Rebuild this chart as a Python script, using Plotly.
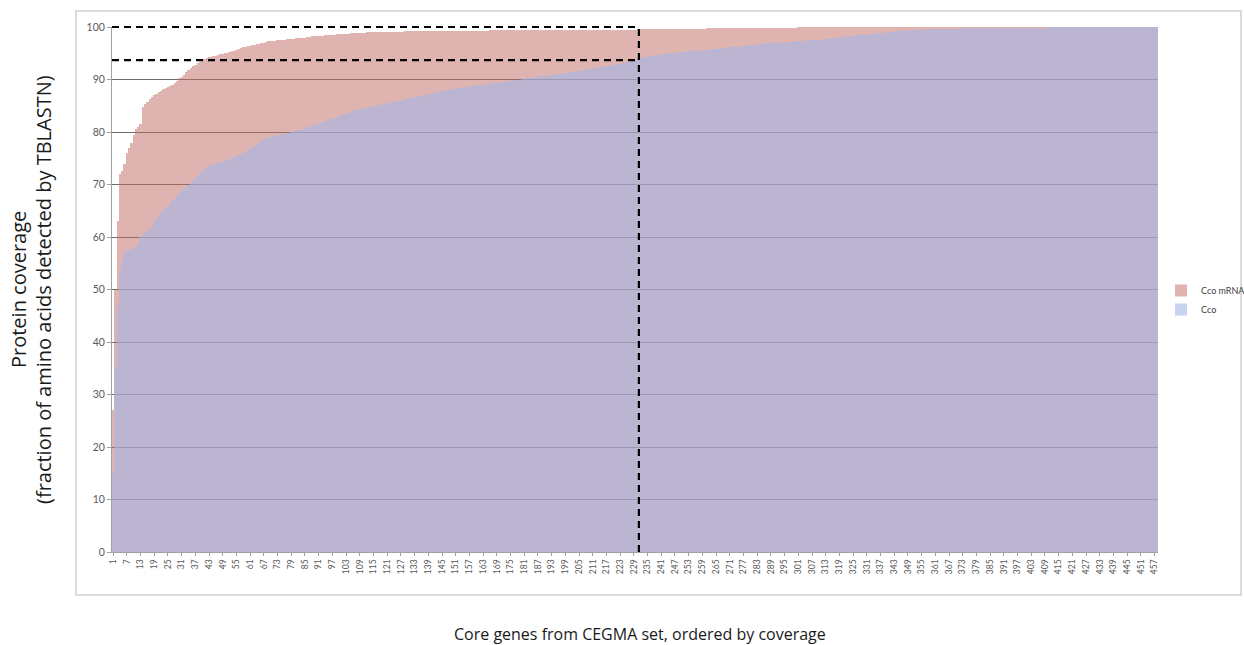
import plotly.graph_objects as go

# ---------------- data ----------------
cco_mrna = [
    27, 50, 63, 72, 72.5, 74, 76, 77, 78, 79.5, 80.5, 81, 81.5, 84.8, 85.3, 85.8, 86.2, 86.6, 87, 87.3,
    87.6, 87.9, 88.1, 88.3, 88.5, 88.7, 89, 89.4, 89.8, 90.2, 90.5, 90.9, 91.4, 91.8, 92.2, 92.5, 92.8, 93.1, 93.4, 93.7,
    93.9, 94.1, 94.2, 94.3, 94.4, 94.5, 94.7, 94.8, 94.9, 95.0, 95.1, 95.3, 95.4, 95.5, 95.7, 95.9, 96.0, 96.1, 96.2, 96.3,
    96.4, 96.5, 96.6, 96.7, 96.8, 96.9, 97.0, 97.2, 97.3, 97.3, 97.4, 97.4, 97.5, 97.5, 97.6, 97.6, 97.7, 97.7, 97.8, 97.8,
    97.9, 97.9, 98.0, 98.0, 98.0, 98.1, 98.1, 98.2, 98.2, 98.2, 98.3, 98.3, 98.3, 98.4, 98.4, 98.4, 98.5, 98.5, 98.6, 98.6,
    98.6, 98.7, 98.7, 98.7, 98.8, 98.8, 98.8, 98.9, 98.9, 98.9, 98.9, 99.0, 99.0, 99.0, 99.0, 99.0, 99.0, 99.0, 99.0, 99.1,
    99.1, 99.1, 99.1, 99.1, 99.1, 99.1, 99.1, 99.1, 99.2, 99.2, 99.2, 99.2, 99.2, 99.2, 99.2, 99.2, 99.2, 99.2, 99.2, 99.2,
    99.2, 99.2, 99.2, 99.2, 99.2, 99.3, 99.3, 99.3, 99.3, 99.3, 99.3, 99.3, 99.3, 99.3, 99.3, 99.3, 99.3, 99.3, 99.3, 99.3,
    99.3, 99.3, 99.3, 99.3, 99.3, 99.4, 99.4, 99.4, 99.4, 99.4, 99.4, 99.4, 99.4, 99.4, 99.4, 99.4, 99.4, 99.4, 99.4, 99.4,
    99.4, 99.4, 99.4, 99.4, 99.4, 99.4, 99.4, 99.4, 99.4, 99.4, 99.5, 99.5, 99.5, 99.5, 99.5, 99.5, 99.5, 99.5, 99.5, 99.5,
    99.5, 99.5, 99.5, 99.5, 99.5, 99.5, 99.5, 99.5, 99.5, 99.5, 99.5, 99.5, 99.5, 99.5, 99.5, 99.5, 99.5, 99.5, 99.5, 99.5,
    99.5, 99.5, 99.5, 99.5, 99.5, 99.5, 99.5, 99.5, 99.5, 99.5, 99.6, 99.6, 99.6, 99.6, 99.6, 99.6, 99.6, 99.6, 99.6, 99.6,
    99.6, 99.6, 99.6, 99.6, 99.6, 99.6, 99.6, 99.6, 99.6, 99.6, 99.7, 99.7, 99.7, 99.7, 99.7, 99.7, 99.7, 99.7, 99.7, 99.7,
    99.8, 99.8, 99.8, 99.8, 99.8, 99.8, 99.8, 99.8, 99.8, 99.8, 99.9, 99.9, 99.9, 99.9, 99.9, 99.9, 99.9, 99.9, 99.9, 99.9,
    99.9, 99.9, 99.9, 99.9, 99.9, 99.9, 99.9, 99.9, 99.9, 99.9, 99.9, 99.9, 99.9, 99.9, 99.9, 99.9, 99.9, 99.9, 99.9, 99.9,
    100, 100, 100, 100, 100, 100, 100, 100, 100, 100, 100, 100, 100, 100, 100, 100, 100, 100, 100, 100,
    100, 100, 100, 100, 100, 100, 100, 100, 100, 100, 100, 100, 100, 100, 100, 100, 100, 100, 100, 100,
    100, 100, 100, 100, 100, 100, 100, 100, 100, 100, 100, 100, 100, 100, 100, 100, 100, 100, 100, 100,
    100, 100, 100, 100, 100, 100, 100, 100, 100, 100, 100, 100, 100, 100, 100, 100, 100, 100, 100, 100,
    100, 100, 100, 100, 100, 100, 100, 100, 100, 100, 100, 100, 100, 100, 100, 100, 100, 100, 100, 100,
    100, 100, 100, 100, 100, 100, 100, 100, 100, 100, 100, 100, 100, 100, 100, 100, 100, 100, 100, 100,
    100, 100, 100, 100, 100, 100, 100, 100, 100, 100, 100, 100, 100, 100, 100, 100, 100, 100, 100, 100,
    100, 100, 100, 100, 100, 100, 100, 100, 100, 100, 100, 100, 100, 100, 100, 100, 100, 100,
]

cco = [
    15, 35, 47, 53, 55.5, 57, 57.5, 57.5, 57.8, 58, 58.3, 58.6, 60, 60.4, 60.8, 61.2, 61.6, 62, 62.8, 63.5,
    64.2, 64.8, 65.2, 65.6, 66, 66.5, 67, 67.5, 68, 68.4, 68.8, 69.2, 69.6, 70, 70.4, 70.9, 71.3, 71.7, 72.1, 72.6,
    73.0, 73.4, 73.6, 73.8, 73.9, 74.0, 74.1, 74.2, 74.3, 74.4, 74.6, 74.8, 75.0, 75.2, 75.4, 75.6, 75.8, 76.0, 76.2, 76.5,
    76.8, 77.1, 77.4, 77.7, 78.0, 78.3, 78.6, 78.8, 79.0, 79.1, 79.2, 79.3, 79.4, 79.5, 79.6, 79.7, 79.8, 79.9, 80.0, 80.1,
    80.2, 80.3, 80.4, 80.6, 80.8, 80.9, 81.0, 81.2, 81.3, 81.5, 81.6, 81.8, 82.0, 82.1, 82.3, 82.4, 82.5, 82.7, 82.9, 83.0,
    83.2, 83.4, 83.5, 83.7, 83.9, 84.0, 84.1, 84.2, 84.3, 84.4, 84.5, 84.6, 84.7, 84.8, 84.9, 85.0, 85.1, 85.2, 85.3, 85.4,
    85.5, 85.6, 85.7, 85.8, 85.8, 85.9, 86.0, 86.1, 86.2, 86.3, 86.4, 86.5, 86.6, 86.7, 86.8, 86.9, 87.0, 87.1, 87.2, 87.3,
    87.4, 87.5, 87.6, 87.7, 87.8, 87.9, 88.0, 88.0, 88.1, 88.2, 88.3, 88.3, 88.4, 88.5, 88.5, 88.6, 88.7, 88.7, 88.8, 88.9,
    88.9, 89.0, 89.0, 89.1, 89.2, 89.2, 89.3, 89.3, 89.4, 89.5, 89.5, 89.6, 89.6, 89.7, 89.8, 89.8, 89.9, 90.0, 90.0, 90.1,
    90.2, 90.2, 90.3, 90.3, 90.4, 90.5, 90.5, 90.6, 90.6, 90.7, 90.7, 90.8, 90.9, 90.9, 91.0, 91.0, 91.1, 91.2, 91.3, 91.3,
    91.4, 91.5, 91.5, 91.6, 91.7, 91.7, 91.8, 91.9, 92.0, 92.0, 92.1, 92.2, 92.2, 92.3, 92.4, 92.5, 92.5, 92.6, 92.7, 92.8,
    92.9, 92.9, 93.0, 93.1, 93.2, 93.3, 93.4, 93.5, 93.6, 93.7, 94.0, 94.1, 94.2, 94.3, 94.4, 94.5, 94.5, 94.6, 94.7, 94.7,
    94.8, 94.8, 94.9, 94.9, 95.0, 95.0, 95.1, 95.1, 95.2, 95.2, 95.3, 95.3, 95.4, 95.4, 95.5, 95.5, 95.5, 95.6, 95.6, 95.6,
    95.7, 95.7, 95.8, 95.8, 95.9, 95.9, 95.9, 96.0, 96.0, 96.1, 96.1, 96.1, 96.2, 96.2, 96.2, 96.3, 96.3, 96.4, 96.4, 96.5,
    96.5, 96.6, 96.6, 96.7, 96.7, 96.8, 96.8, 96.9, 96.9, 97.0, 97.0, 97.0, 97.1, 97.1, 97.1, 97.2, 97.2, 97.2, 97.3, 97.3,
    97.3, 97.4, 97.4, 97.4, 97.5, 97.5, 97.5, 97.5, 97.6, 97.6, 97.6, 97.7, 97.7, 97.8, 97.8, 97.9, 97.9, 98.0, 98.0, 98.1,
    98.1, 98.2, 98.2, 98.3, 98.3, 98.3, 98.4, 98.4, 98.5, 98.5, 98.5, 98.6, 98.6, 98.7, 98.7, 98.8, 98.8, 98.9, 98.9, 99.0,
    99.0, 99.1, 99.1, 99.2, 99.2, 99.3, 99.3, 99.3, 99.4, 99.4, 99.4, 99.5, 99.5, 99.5, 99.5, 99.6, 99.6, 99.6, 99.6, 99.7,
    99.7, 99.7, 99.7, 99.7, 99.7, 99.7, 99.7, 99.7, 99.7, 99.7, 99.7, 99.7, 99.8, 99.8, 99.8, 99.8, 99.8, 99.8, 99.8, 99.8,
    99.8, 99.8, 99.8, 99.8, 99.8, 99.8, 99.8, 99.8, 99.8, 99.8, 99.8, 99.8, 99.8, 99.8, 99.8, 99.8, 99.8, 99.8, 99.8, 99.8,
    99.8, 99.8, 99.8, 99.8, 99.8, 99.8, 99.8, 99.8, 99.8, 99.8, 100, 100, 100, 100, 100, 100, 100, 100, 100, 100,
    100, 100, 100, 100, 100, 100, 100, 100, 100, 100, 100, 100, 100, 100, 100, 100, 100, 100, 100, 100,
    100, 100, 100, 100, 100, 100, 100, 100, 100, 100, 100, 100, 100, 100, 100, 100, 100, 100,
]

genes = list(range(1, len(cco_mrna) + 1))
tick_labels = [str(g) for g in genes[::6]]
y_ticks = [0, 10, 20, 30, 40, 50, 60, 70, 80, 90, 100]

# highlighted region (dashed box)
CUT_GENE = 231.2
CUT_COVERAGE = 93.7

RED = "rgba(191,103,97,0.5)"
BLUE = "rgba(163,181,231,0.6)"
FONT = "Lato"
TITLE_FONT = "Open Sans"

fig = go.Figure()
fig.add_trace(go.Bar(x=genes, y=cco_mrna, name="Cco mRNA",
                     marker=dict(color=RED, line=dict(width=0))))
fig.add_trace(go.Bar(x=genes, y=cco, name="Cco",
                     marker=dict(color=BLUE, line=dict(width=0))))

L, R, T, B = 112, 86, 27, 93
W, H = 1244, 645
pw, ph = W - L - R, H - T - B
x_lo, x_hi = 0.5, len(genes) + 0.5
y_lo, y_hi = 0, 100


def px_x(p):
    return (p - L) / pw


def px_y(p):
    return (H - B - p) / ph


def dx(v):  # data x -> paper
    return (v - x_lo) / (x_hi - x_lo)


def dy(v):  # data y -> paper
    return (v - y_lo) / (y_hi - y_lo)


dash = "7px,5px"
dline = dict(color="black", width=2.2, dash=dash)
shapes = [
    dict(type="line", xref="paper", yref="paper", x0=dx(x_lo), x1=dx(CUT_GENE), y0=dy(100), y1=dy(100), line=dline),
    dict(type="line", xref="paper", yref="paper", x0=dx(x_lo), x1=dx(CUT_GENE),
         y0=dy(CUT_COVERAGE), y1=dy(CUT_COVERAGE), line=dline),
    dict(type="line", xref="paper", yref="paper", x0=dx(CUT_GENE), x1=dx(CUT_GENE), y0=dy(0), y1=dy(100), line=dline),
    dict(type="rect", xref="paper", yref="paper", x0=px_x(76), x1=px_x(1241), y0=px_y(595), y1=px_y(11),
         line=dict(color="#cfcfcf", width=1.5), layer="below"),
]

title_font = dict(size=20, color="#1a1a1a", family=TITLE_FONT)

fig.update_layout(
    width=W, height=H,
    margin=dict(l=L, r=R, t=T, b=B, autoexpand=False),
    paper_bgcolor="white", plot_bgcolor="white",
    barmode="overlay", bargap=0,
    font=dict(family=FONT, color="#595959"),
    showlegend=True,
    legend=dict(x=px_x(1161), y=px_y(276), xanchor="left", yanchor="top",
                font=dict(size=9, color="#404040", family=FONT),
                itemwidth=30, tracegroupgap=0, bgcolor="rgba(0,0,0,0)"),
    shapes=shapes,
    annotations=[
        dict(text="Protein coverage",
             xref="paper", yref="paper", x=px_x(18), y=px_y(290), textangle=-90,
             showarrow=False, font=title_font, xanchor="center", yanchor="middle"),
        dict(text="(fraction of amino acids detected by TBLASTN)",
             xref="paper", yref="paper", x=px_x(43), y=px_y(290), textangle=-90,
             showarrow=False, font=title_font, xanchor="center", yanchor="middle"),
        dict(text="Core genes from CEGMA set, ordered by coverage",
             xref="paper", yref="paper", x=px_x(640), y=px_y(634),
             showarrow=False, font=dict(size=16, color="#1a1a1a", family=TITLE_FONT),
             xanchor="center", yanchor="middle"),
    ],
)

fig.update_xaxes(
    range=[x_lo, x_hi],
    tickmode="array", tickvals=genes[::6], ticktext=tick_labels,
    tickangle=-90, tickfont=dict(size=8.5, color="#595959"),
    ticks="outside", ticklen=3, tickcolor="#a0a0a0",
    showline=True, linecolor="#a0a0a0", linewidth=1,
    showgrid=False, zeroline=False,
)
fig.update_yaxes(
    range=[y_lo, y_hi],
    tickmode="array", tickvals=y_ticks,
    tickfont=dict(size=10.5, color="#595959"),
    ticks="outside", ticklen=4, tickcolor="#a0a0a0",
    showline=True, linecolor="#a0a0a0", linewidth=1,
    showgrid=True, gridcolor="#6e6e6e", gridwidth=1,
    zeroline=False,
)

fig.write_html("out.html", config={"displayModeBar": False},
               post_script="document.body.style.margin='0px';")
